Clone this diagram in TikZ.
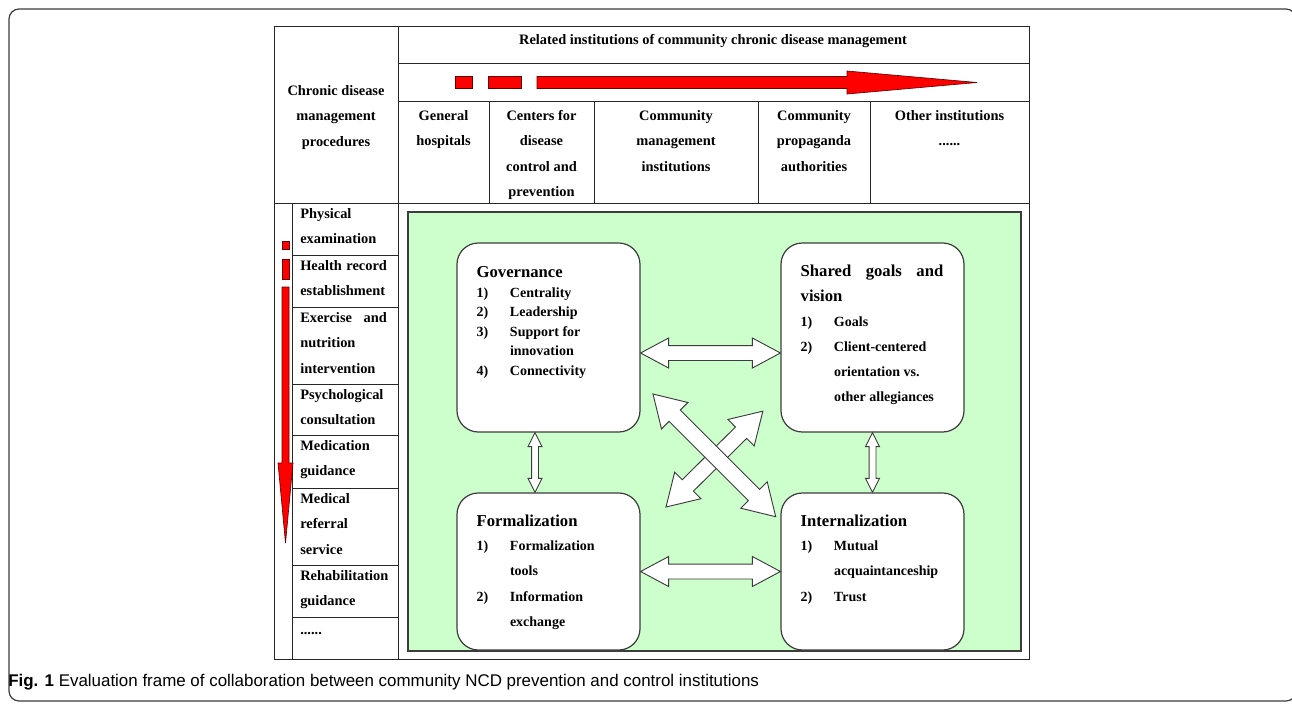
\documentclass[tikz,border=0pt]{standalone}
\usepackage{fontspec}
\setmainfont{Liberation Serif}
\newfontfamily\capfont{Liberation Sans}
\usetikzlibrary{calc, positioning}
\definecolor{linegray}{HTML}{3C3C3C}
\definecolor{panelgreen}{HTML}{CCFFCC}
\definecolor{barred}{HTML}{FF0000}

\tikzset{
  tabline/.style={draw=black!85, line width=0.75pt},
  tabtext/.style={font=\bfseries\fontsize{10.8}{19.2}\selectfont, inner sep=0pt},
  redbar/.style={draw=black!60!red, line width=0.5pt, fill=barred},
  roundbox/.style={draw=linegray, line width=0.9pt, fill=white, rounded corners=16pt,
    minimum width=137.25pt, inner sep=0pt},
  boxtitle/.style={font=\bfseries\fontsize{12.5}{18.75}\selectfont, inner sep=0pt, anchor=base west},
  boxitems/.style={font=\bfseries\fontsize{10.5}{#1}\selectfont, inner sep=0pt, anchor=base west},
  boxitems/.default=18.75pt,
  blockarrow/.style={draw=linegray, line width=0.7pt, fill=white, line join=miter},
}

% cells hang from their first baseline
\newcommand{\cellc}[1]{\begin{tabular}[t]{@{}c@{}}#1\end{tabular}}
\newcommand{\celll}[1]{\begin{tabular}[t]{@{}l@{}}#1\end{tabular}}
\newcommand{\itemlist}[1]{\begin{tabular}[t]{@{}p{25pt}@{}l@{}}#1\end{tabular}}
% spread one line over the cell width
\newcommand{\spreadrow}[1]{\makebox[65pt][s]{#1}}
\newcommand{\moredots}{......}

% outlined double arrow: start, end, half shaft, half head, head length
\newcommand{\twoway}[5]{%
  \path let \p1=($(#2)-(#1)$) in \pgfextra{%
    \pgfmathsetmacro{\arrlen}{veclen(\x1,\y1)}%
    \pgfmathsetmacro{\arrang}{atan2(\y1,\x1)}%
    \xdef\ArrLen{\arrlen}\xdef\ArrAng{\arrang}};
  \begin{scope}[shift={(#1)}, rotate=\ArrAng]
    \draw[blockarrow] (0pt,0pt) -- (#5,#4) -- (#5,#3) -- (\ArrLen pt-#5,#3)
      -- (\ArrLen pt-#5,#4) -- (\ArrLen pt,0pt) -- (\ArrLen pt-#5,-#4)
      -- (\ArrLen pt-#5,-#3) -- (#5,-#3) -- (#5,-#4) -- cycle;
  \end{scope}}

\begin{document}
\begin{tikzpicture}[x=0.75pt, y=-0.75pt]
\useasboundingbox (0,0) rectangle (1292,704);
% outer frame
\draw[linegray, line width=0.9pt, rounded corners=7.5pt] (9,9) rectangle (1296,701);

% table grid
\draw[tabline] (274,26) rectangle (1029,659);
\draw[tabline] (398,26) -- (398,659);
\draw[tabline] (398,63) -- (1029,63);
\draw[tabline] (398,101) -- (1029,101);
\draw[tabline] (274,203) -- (1029,203);
\foreach \x in {489,594,758,870} \draw[tabline] (\x,101) -- (\x,203);
\draw[tabline] (292,203) -- (292,659);
\foreach \y in {255,307,384,435,488,565,617} \draw[tabline] (292,\y) -- (398,\y);

% header texts
\node[tabtext, anchor=base] (procs) at (336,95) {\cellc{Chronic disease\\management\\procedures}};
\node[tabtext, anchor=base] (insts) at (713,44) {Related institutions of community chronic disease management};
\foreach \x/\txt [count=\i] in {443.5/General\\hospitals, 541.5/Centers for\\disease\\control and\\prevention,
    676/Community\\management\\institutions, 814/Community\\propaganda\\authorities, 949.5/Other institutions\\\moredots}
  \node[tabtext, anchor=base] (inst\i) at (\x,120) {\cellc{\txt}};

% procedure rows
\foreach \y/\txt [count=\i] in {218/Physical\\examination, 270/\spreadrow{Health record}\\establishment,
    322/\spreadrow{Exercise and}\\nutrition\\intervention, 399/Psychological\\consultation,
    450/Medication\\guidance, 503/Medical\\referral\\service, 580/Rehabilitation\\guidance, 634/\moredots}
  \node[tabtext, anchor=base west] (step\i) at (300,\y) {\celll{\txt}};

% red bars
\draw[redbar] (455,76) rectangle (472,88);
\draw[redbar] (488,76) rectangle (521,88);
\draw[redbar] (537,76.5) -- (847,76.5) -- (847,71) -- (977,82.5) -- (847,94) -- (847,88.5) -- (537,88.5) -- cycle;
\draw[redbar] (282,241) rectangle (289,249);
\draw[redbar] (282,259) rectangle (289,279);
\draw[redbar] (282,287) -- (289,287) -- (289,463) -- (293,463) -- (285.5,543) -- (278,463) -- (282,463) -- cycle;

% green panel
\draw[linegray, line width=0.8pt, fill=panelgreen] (408,212) rectangle (1021,651);

% dimension boxes
\node[roundbox, minimum height=141.75pt] (gov) at (548.5,337.5) {};
\node[roundbox, minimum height=141.75pt] (shr) at (872.5,337.5) {};
\node[roundbox, minimum height=117.75pt] (frm) at (548.5,571.5) {};
\node[roundbox, minimum height=117.75pt] (int) at (872.5,571.5) {};

\node[boxtitle] (govtitle) at ($(gov.north west)+(20,35)$) {Governance};
\node[boxitems=14.6pt] (govlist) at ($(gov.north west)+(20,55)$)
  {\itemlist{1)&Centrality\\2)&Leadership\\3)&Support for\\&innovation\\4)&Connectivity}};

\node[boxtitle] (shrtitle) at ($(shr.north west)+(20,34)$)
  {\celll{\makebox[107pt][s]{Shared goals and}\\vision}};
\node[boxitems] (shrlist) at ($(shr.north west)+(20,84)$)
  {\itemlist{1)&Goals\\2)&Client-centered\\&orientation vs.\\&other allegiances}};

\node[boxtitle] (frmtitle) at ($(frm.north west)+(20,34)$) {Formalization};
\node[boxitems=19.1pt] (frmlist) at ($(frm.north west)+(20,58)$)
  {\itemlist{1)&Formalization\\&tools\\2)&Information\\&exchange}};

\node[boxtitle] (inttitle) at ($(int.north west)+(20,34)$) {Internalization};
\node[boxitems=19.1pt] (intlist) at ($(int.north west)+(20,58)$)
  {\itemlist{1)&Mutual\\&acquaintanceship\\2)&Trust}};

% arrows between boxes
\coordinate (gs1) at ($(gov.east)+(0,15.5)$);
\coordinate (gs2) at ($(shr.west)+(0,15.5)$);
\coordinate (gf1) at ($(gov.south)+(-13.5,0)$);
\coordinate (gf2) at ($(frm.north)+(-13.5,0)$);
\coordinate (xa1) at (653,394);
\coordinate (xa2) at (776,517);
\coordinate (xb1) at (666,507);
\coordinate (xb2) at (763,411);
\twoway{gs1}{gs2}{5.6pt}{11.25pt}{21pt}
\twoway{frm.east}{int.west}{5.6pt}{11.25pt}{21pt}
\twoway{gf1}{gf2}{2.6pt}{5.25pt}{10.5pt}
\twoway{shr.south}{int.north}{2.6pt}{5.25pt}{10.5pt}
\twoway{xb1}{xb2}{6pt}{14pt}{23pt}
\twoway{xa1}{xa2}{6pt}{14pt}{23pt}

% caption
\node[anchor=base west, inner sep=0pt, font=\capfont\fontsize{12.7}{14}\selectfont] (caption) at (8,686)
  {\textbf{Fig. 1} Evaluation frame of collaboration between community NCD prevention and control institutions};
\end{tikzpicture}
\end{document}
